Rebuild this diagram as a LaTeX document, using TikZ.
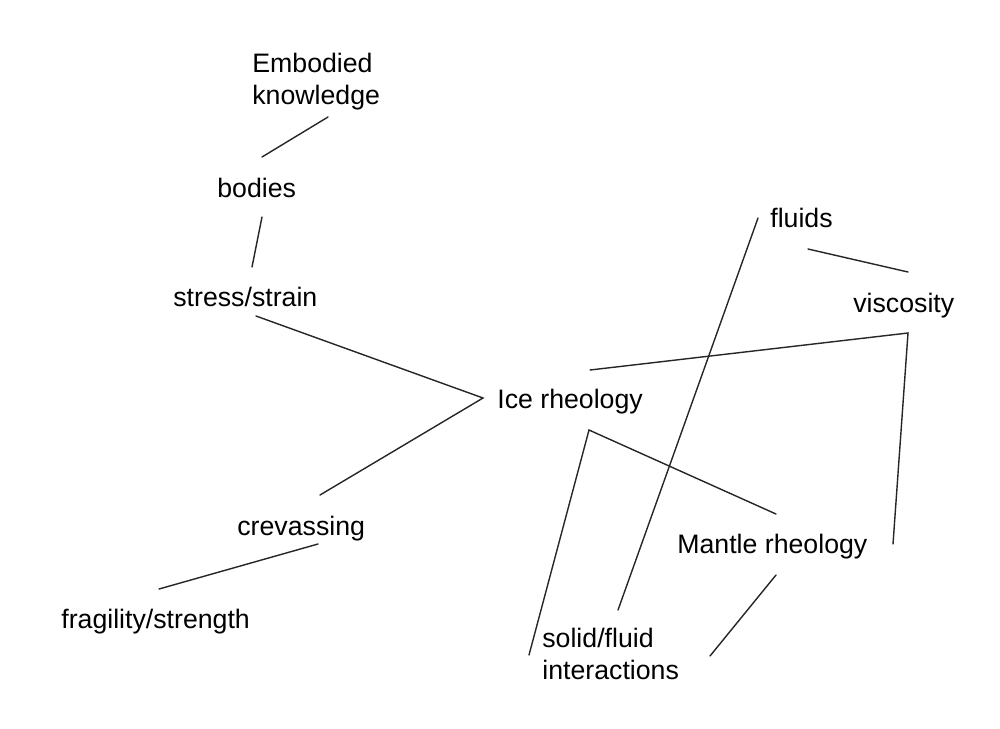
\documentclass[tikz,border=0pt]{standalone}
\usepackage{fontspec}
\setmainfont{Liberation Sans}

\begin{document}
\begin{tikzpicture}[
    x=0.02cm, y=-0.02cm,
    every node/.style={font=\fontsize{15.2}{18.2}\selectfont, inner sep=0pt, anchor=base west, align=left},
    link/.style={line width=0.8pt, black!85, line cap=round}
  ]
    \useasboundingbox (0,0) rectangle (1000,728);

    % concepts (two-line ones sit on their last line)
    \node (emb) at (252,104) {Embodied\\knowledge};
    \node (bod) at (217,197) {bodies};
    \node (ss) at (173,306) {stress/strain};
    \node (ice) at (497,408) {Ice rheology};
    \node (crev) at (237,535) {crevassing};
    \node (frag) at (61,628) {fragility/strength};
    \node (flu) at (770,227) {fluids};
    \node (visc) at (853,312) {viscosity};
    \node (mant) at (677,553) {Mantle rheology};
    \node (sol) at (542,679) {solid/fluid\\interactions};

    % line ends (hand drawn, they stop short of the words)
    \coordinate (emb-s) at (328,117);
    \coordinate (bod-n) at (262,157);
    \coordinate (bod-s) at (262,217);
    \coordinate (ss-n) at (252,267);
    \coordinate (ss-e) at (256,316);
    \coordinate (ice-w) at (483,398);
    \coordinate (crev-n) at (320,495);
    \coordinate (crev-s) at (318,544);
    \coordinate (frag-n) at (159,589);
    \coordinate (flu-w) at (758,218);
    \coordinate (flu-s) at (808,249);
    \coordinate (visc-n) at (908,272);
    \coordinate (visc-s) at (908,333);
    \coordinate (ice-ne) at (590,370);
    \coordinate (ice-s) at (589,430);
    \coordinate (mant-n) at (776,514);
    \coordinate (mant-e) at (893,544);
    \coordinate (mant-s) at (776,575);
    \coordinate (sol-n) at (618,610);
    \coordinate (sol-w) at (529,655);
    \coordinate (sol-e) at (710,656);

    % left branch
    \draw[link] (emb-s) -- (bod-n);
    \draw[link] (bod-s) -- (ss-n);
    \draw[link] (ss-e) -- (ice-w) -- (crev-n);
    \draw[link] (crev-s) -- (frag-n);

    % right branch
    \draw[link] (flu-w) -- (sol-n);
    \draw[link] (flu-s) -- (visc-n);
    \draw[link] (ice-ne) -- (visc-s) -- (mant-e);
    \draw[link] (sol-w) -- (ice-s) -- (mant-n);
    \draw[link] (mant-s) -- (sol-e);
  \end{tikzpicture}
\end{document}
